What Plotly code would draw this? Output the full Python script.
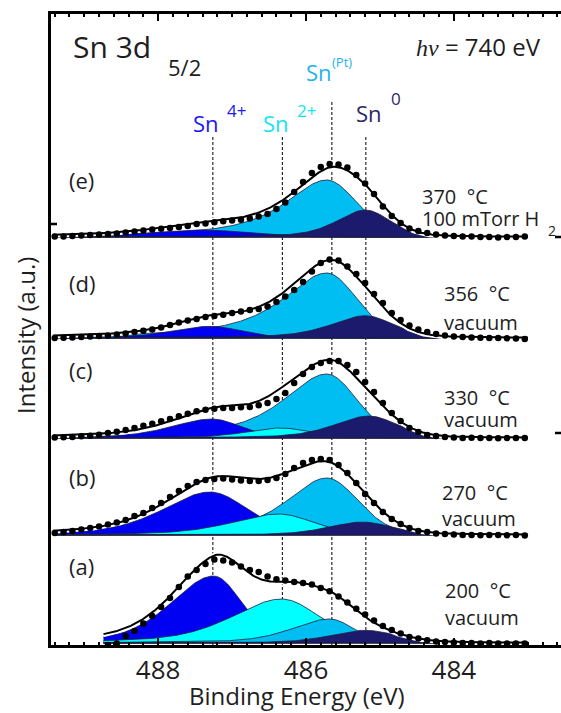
import numpy as np
import plotly.graph_objects as go

# ---------------- data ----------------
ENERGY = [489.40, 489.28, 489.16, 489.04, 488.92, 488.80, 488.68, 488.56, 488.44, 488.32,
          488.20, 488.08, 487.96, 487.84, 487.72, 487.60, 487.48, 487.36, 487.24, 487.12,
          487.00, 486.88, 486.76, 486.64, 486.52, 486.40, 486.28, 486.16, 486.04, 485.92,
          485.80, 485.68, 485.56, 485.44, 485.32, 485.20, 485.08, 484.96, 484.84, 484.72,
          484.60, 484.48, 484.36, 484.24, 484.12, 484.00, 483.88, 483.76, 483.64, 483.52,
          483.40, 483.28, 483.16, 483.04]

PANELS = ["(a)", "(b)", "(c)", "(d)", "(e)"]
TEMPS = ["200 °C", "270 °C", "330 °C", "356 °C", "370 °C"]
ATMOS = ["vacuum", "vacuum", "vacuum", "vacuum", "100 mTorr H"]
OFFSETS = [2, 110, 207, 307, 408]
FIT_START = [488.74, 489.42, 489.42, 489.42, 489.42]
FIT_END = 483.0

DOTS_A = [None, None, None, None, None, None, -2, -0.5, 7, 12, 19.5, 27, 36, 45, 56, 66.5, 73, 79, 83.5, 82.5,
          80.5, 76.5, 73, 71, 66.5, 63.7, 62.5, 61, 60, 58.5, 55, 51.7, 46.5, 40.5, 34.3, 28.5, 22.5, 17, 13, 9.5,
          6, 4.5, 2.7, 1.5, 1, 0.5, 0, 0, -0.5, 0, -0.5, -0.5, -0.5, -0.5]
DOTS_B = [2, 3, 4, 5.5, 7, 8.5, 10.5, 12.5, 15, 19, 22, 27, 32, 38, 44, 49, 53, 55, 56, 56.5,
          55.5, 54.5, 54, 54, 55, 57, 61, 67, 72, 75, 76, 75, 70, 62, 52, 41, 32, 23, 16, 11,
          7, 4, 3, 1.5, 1, 0.5, 0, 0, -0.3, 0, 0, -0.3, 0, -0.5]
DOTS_C = [0.5, 0.7, 1, 1.7, 2.3, 3.3, 5, 6.3, 8, 10, 12.3, 14.3, 16.7, 19, 21.7, 24.3, 26.7, 28.3, 29.3, 30,
          30, 30.7, 31, 32.7, 35, 39, 45, 55, 64, 71, 75, 77, 77, 73, 66, 56, 46, 35, 25, 17,
          10, 6, 3, 2, 1, 0.5, 0, 0.3, 0, 0, -0.3, 0, 0, 0]
DOTS_D = [0, 0.3, 0.5, 1, 1.5, 2, 2.5, 3.5, 4.5, 6, 7.3, 8.5, 10.5, 13, 15.5, 17.5, 19, 21, 22, 23.3,
          25, 26.5, 28, 29, 31.5, 36, 41.5, 48, 56, 66.5, 75, 78.5, 77.5, 71.5, 64, 55, 44, 35, 25, 18,
          12.5, 8.5, 6, 4, 2.5, 1.5, 1, 0.5, 0.3, 0, 0, -0.3, -0.5, -1]
DOTS_E = [0.5, 0.5, 1, 1.5, 2, 2.5, 3, 3.5, 4.5, 5.5, 6.5, 7.5, 8.3, 9, 10, 11, 13, 13.5, 14.7, 15.7,
          16.5, 17.3, 18.5, 20.5, 23, 28, 34.5, 45, 55, 64, 70, 73, 72.5, 69.5, 62, 53.5, 43, 30.5, 21, 14,
          8.5, 6, 4, 2.5, 1.5, 1, 0.5, 0.5, 0, 0, -0.5, 0, 0, 0.5]
DOTS = [DOTS_A, DOTS_B, DOTS_C, DOTS_D, DOTS_E]

# fitted components per panel [a, b, c, d, e]
SN4_CENTER = [487.25, 487.30, 487.27, 487.30, 487.40]
SN4_HEIGHT = [67, 43, 19, 11.7, 7]
SN4_WL = [0.68, 0.75, 0.65, 0.60, 0.80]
SN4_WR = [0.45, 0.60, 0.45, 0.50, 0.70]
SN4_ETA = [0.40, 0.50, 0.40, 0.40, 0.40]

SN2_CENTER = [486.33, 486.37, 486.35, 486.35, 486.35]
SN2_HEIGHT = [44, 21, 10, 2, 0.8]
SN2_WL = [0.80, 0.75, 0.55, 0.50, 0.50]
SN2_WR = [0.60, 0.55, 0.50, 0.50, 0.50]
SN2_ETA = [0.50, 0.50, 0.40, 0.30, 0.30]

SNPT_CENTER = [485.68, 485.72, 485.72, 485.72, 485.72]
SNPT_HEIGHT = [24, 57, 64, 65, 57]
SNPT_WL = [0.60, 0.65, 0.70, 0.72, 0.68]
SNPT_WR = [0.38, 0.50, 0.48, 0.48, 0.48]
SNPT_ETA = [0.50, 0.70, 0.75, 0.85, 0.85]

SN0_CENTER = [485.20, 485.23, 485.15, 485.20, 485.20]
SN0_HEIGHT = [12.7, 13, 22, 22.3, 27]
SN0_WL = [0.55, 0.55, 0.55, 0.55, 0.45]
SN0_WR = [0.50, 0.45, 0.45, 0.45, 0.40]
SN0_ETA = [0.40, 0.40, 0.50, 0.60, 0.50]
ETA_RIGHT = 0.15

REF_ENERGY = [487.26, 486.32, 485.65, 485.19]
REF_TOP = [508, 508, 545, 508]

X_TICKS = [488, 486, 484]

# ---------------- styling ----------------
FONT = "Open Sans"
COL_SN4 = "#0000F2"
COL_SN2 = "#00FFFF"
COL_SNPT = "#00BEF2"
COL_SN0 = "#1B1A6C"
OUTLINE = "#1d1d3d"
TXT = "#1e1e1e"

W, H = 561, 713
L, R, T, B = 51, 0, 14, 68
PW, PH = W - L - R, H - T - B


def pv(x, c, h, wl, wr, eta_l):
    d = x - c
    w = np.where(d > 0, wl, wr)
    eta = np.where(d > 0, eta_l, ETA_RIGHT)
    u = (d / w) ** 2
    return h * ((1 - eta) * np.exp(-np.log(2) * u) + eta / (1 + u))


fig = go.Figure()

species = {
    "sn4": (SN4_CENTER, SN4_HEIGHT, SN4_WL, SN4_WR, SN4_ETA, COL_SN4),
    "sn2": (SN2_CENTER, SN2_HEIGHT, SN2_WL, SN2_WR, SN2_ETA, COL_SN2),
    "snpt": (SNPT_CENTER, SNPT_HEIGHT, SNPT_WL, SNPT_WR, SNPT_ETA, COL_SNPT),
    "sn0": (SN0_CENTER, SN0_HEIGHT, SN0_WL, SN0_WR, SN0_ETA, COL_SN0),
}
# layering of the filled components (bottom to top) in each panel
LAYER_ORDER = [["sn4", "sn2", "snpt", "sn0"]] + [["snpt", "sn4", "sn2", "sn0"]] * 4

for i in range(5):
    off = OFFSETS[i]
    xs = np.linspace(FIT_START[i], FIT_END, 500)
    total = np.zeros_like(xs)
    for key in LAYER_ORDER[i]:
        cen, hei, wl, wr, eta, col = species[key]
        comp = pv(xs, cen[i], hei[i], wl[i], wr[i], eta[i])
        total += comp
        px = np.concatenate([xs, xs[::-1]])
        py = np.concatenate([off + comp, np.full_like(xs, off)])
        fig.add_trace(go.Scatter(x=px, y=py, fill="toself", fillcolor=col, mode="lines",
                                 line=dict(color=OUTLINE, width=0.8), hoverinfo="skip",
                                 showlegend=False))
    fig.add_trace(go.Scatter(x=xs, y=off + total, mode="lines",
                             line=dict(color="white", width=6), hoverinfo="skip", showlegend=False))
    fig.add_trace(go.Scatter(x=xs, y=off + total, mode="lines",
                             line=dict(color="black", width=2), hoverinfo="skip", showlegend=False))
    ys = [None if v is None else off + v for v in DOTS[i]]
    fig.add_trace(go.Scatter(x=ENERGY, y=ys, mode="markers",
                             marker=dict(color="black", size=6.5), showlegend=False))

shapes = []
for e, top in zip(REF_ENERGY, REF_TOP):
    shapes.append(dict(type="line", xref="x", yref="y", x0=e, x1=e, y0=0, y1=top,
                       line=dict(color="black", width=1, dash="3px,2px"), layer="below"))


def P(xpx, ypx):
    return (xpx - L) / PW, (H - B - ypx) / PH


# small stray axis ticks seen on the frame
for (xa, xb, yy) in [(51, 57, 224), (555, 561, 237), (555, 561, 433)]:
    x0, y0 = P(xa, yy)
    x1, _ = P(xb, yy)
    shapes.append(dict(type="line", xref="paper", yref="paper", x0=x0, x1=x1, y0=y0, y1=y0,
                       line=dict(color="black", width=2.5)))

anns = []


def ann(xpx, ypx, text, size, color=TXT, xanchor="left", angle=0, family=FONT):
    x, y = P(xpx, ypx)
    anns.append(dict(x=x, y=y, xref="paper", yref="paper", text=text, showarrow=False,
                     xanchor=xanchor, yanchor="middle", textangle=angle,
                     font=dict(family=family, size=size, color=color)))


ann(71, 46, "Sn 3d", 30)
ann(166, 67, "5/2", 22)
ann(543, 46, '<span style="font-family:\'Liberation Serif\';font-style:italic">hν</span> = 740 eV', 24,
    xanchor="right")
ann(304, 72, "Sn", 22, "#1FB2EC")
ann(330, 62, "(Pt)", 13, "#1FB2EC")
ann(191, 123, "Sn", 22, "#1818F8")
ann(225, 111, "4+", 17, "#1818F8")
ann(261, 123, "Sn", 22, "#12E4F2")
ann(295, 110, "2+", 17, "#12E4F2")
ann(354, 113, "Sn", 22, "#2A2868")
ann(389, 99, "0", 17, "#2A2868")

LABEL_Y = [566, 477, 370, 283, 180]
TEMP_Y = [590, 492, 397, 293, 196]
ATM_Y = [617, 518, 420, 322, 218]
TEMP_X = [443, 440, 442, 442, 420]
for i in range(5):
    ann(67, LABEL_Y[i], PANELS[i], 22)
    ann(TEMP_X[i], TEMP_Y[i], TEMPS[i].replace(" ", "\u00a0\u00a0"), 20)
    ann(TEMP_X[i], ATM_Y[i], ATMOS[i], 20)
ann(546, 230, "2", 14)

ann(26, 336, "Intensity (a.u.)", 24, xanchor="center", angle=-90)
ann(297, 695, "Binding Energy (eV)", 24, xanchor="center")

fig.update_layout(
    width=W, height=H, margin=dict(l=L, r=R, t=T, b=B, autoexpand=False),
    paper_bgcolor="white", plot_bgcolor="white",
    font=dict(family=FONT, color=TXT),
    shapes=shapes, annotations=anns, showlegend=False,
    xaxis=dict(range=[489.45, 482.55], tickvals=X_TICKS, ticks="inside", ticklen=7, tickwidth=2,
               tickcolor="black", showline=True, linewidth=2.5, linecolor="black", mirror="ticks",
               showgrid=False, zeroline=False, tickfont=dict(size=26, color=TXT), automargin=False,
               minor=dict(dtick=0.2, ticks="inside", ticklen=3, tickwidth=1.5, tickcolor="black",
                          showgrid=False)),
    yaxis=dict(range=[0, PH], showticklabels=False, ticks="", showline=True, linewidth=3,
               linecolor="black", showgrid=False, zeroline=False, automargin=False),
)

fig.write_html("out.html", config={"displayModeBar": False},
               post_script="document.body.style.margin='0';document.body.style.overflow='hidden';")
